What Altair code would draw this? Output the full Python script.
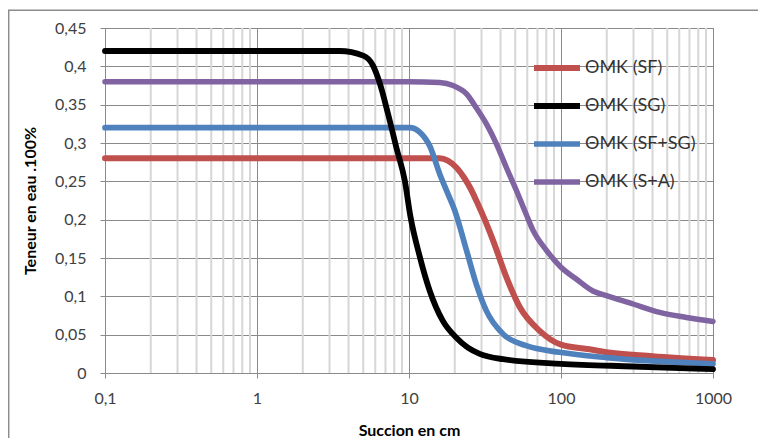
import altair as alt
import pandas as pd

series_names = ["ΘMK (SF)", "ΘMK (SG)", "ΘMK (SF+SG)", "ΘMK (S+A)"]
series_colors = ["#C0504D", "#000000", "#4F81BD", "#8064A2"]
series_widths = [6, 5.5, 5.5, 3]

sf_x = [0.1, 1, 10, 15.9, 18, 20.5, 23, 25.5, 28, 31.5, 35.7, 43.7, 53.5, 72.4, 100, 154, 199, 400, 1000]
sf_y = [0.28, 0.28, 0.28, 0.280, 0.277, 0.268, 0.255, 0.240, 0.223, 0.200, 0.173, 0.125, 0.086, 0.055, 0.037, 0.031, 0.027, 0.022, 0.017]

sg_x = [0.1, 1, 3.5, 5.0, 5.8, 6.4, 7.28, 8.26, 9.4, 10.2, 11.8, 13.7, 16.7, 20.5, 24.4, 29.2, 41.5, 100, 300, 1000]
sg_y = [0.42, 0.42, 0.42, 0.414, 0.401, 0.379, 0.338, 0.294, 0.250, 0.205, 0.151, 0.107, 0.068, 0.046, 0.033, 0.025, 0.018, 0.012, 0.0085, 0.005]

sfsg_x = [0.1, 1, 10.1, 11.8, 13.7, 15.9, 18.1, 20, 23.9, 27.7, 32.3, 41.5, 59, 98, 199, 1000]
sfsg_y = [0.32, 0.32, 0.32, 0.314, 0.296, 0.260, 0.233, 0.212, 0.160, 0.116, 0.081, 0.051, 0.0356, 0.027, 0.020, 0.012]

sa_x = [0.1, 1, 10, 15.9, 19.5, 23.9, 27.7, 32.3, 37.6, 43.7, 50.9, 59, 65.5, 80.2, 100, 126, 162, 199, 298, 446, 668, 1000]
sa_y = [0.38, 0.38, 0.38, 0.379, 0.375, 0.364, 0.346, 0.325, 0.299, 0.268, 0.238, 0.207, 0.186, 0.160, 0.138, 0.1226, 0.107, 0.1008, 0.090, 0.079, 0.0725, 0.0673]

x_ticks = [0.1, 1, 10, 100, 1000]
minor_ticks = [0.2, 0.3, 0.4, 0.5, 0.6, 0.7, 0.8, 0.9,
               2, 3, 4, 5, 6, 7, 8, 9,
               20, 30, 40, 50, 60, 70, 80, 90,
               200, 300, 400, 500, 600, 700, 800, 900]
y_ticks = [0, 0.05, 0.1, 0.15, 0.2, 0.25, 0.3, 0.35, 0.4, 0.45]

rows = []
for name, xs, ys in [(series_names[0], sf_x, sf_y),
                     (series_names[3], sa_x, sa_y),
                     (series_names[2], sfsg_x, sfsg_y),
                     (series_names[1], sg_x, sg_y)]:
    for xv, yv in zip(xs, ys):
        rows.append({"serie": name, "succion": xv, "teneur": yv})
df = pd.DataFrame(rows)

W, H = 608, 345
FONT = "Lato"
GRID = "#8a8a8a"

x_scale = alt.Scale(type="log", domain=[0.1, 1000], nice=False)
y_scale = alt.Scale(domain=[0, 0.45], nice=False, zero=True)

x_axis = alt.Axis(values=x_ticks, labelExpr="replace(format(datum.value, '~g'), '.', ',')",
                  grid=True, gridColor=GRID, domainColor=GRID, tickColor=GRID,
                  tickSize=5, labelFont=FONT, labelFontSize=16, labelColor="#404040",
                  labelPadding=12, title="Succion en cm", titleFont=FONT,
                  titleFontSize=16, titleFontWeight="bold", titleColor="#000000",
                  titlePadding=16, labelFlush=False)
y_axis = alt.Axis(values=y_ticks, labelExpr="replace(format(datum.value, '~g'), '.', ',')",
                  grid=True, gridColor=GRID, domainColor=GRID, tickColor=GRID,
                  tickSize=5, labelFont=FONT, labelFontSize=16, labelColor="#404040",
                  labelPadding=14, title="Teneur en eau .100%", titleFont=FONT,
                  titleFontSize=16, titleFontWeight="bold", titleColor="#000000",
                  titlePadding=16)

frame = alt.Chart(pd.DataFrame({"a": [0]})).mark_rect(
    filled=False, stroke="#8c8c8c", strokeWidth=1.5
).encode(
    x=alt.value(-96.3), x2=alt.value(2000), y=alt.value(-17.7), y2=alt.value(2000)
)

minor = alt.Chart(pd.DataFrame({"succion": minor_ticks})).mark_rule(
    color="#d6d6d6", strokeWidth=2
).encode(
    x=alt.X("succion:Q", scale=x_scale, axis=x_axis),
    y=alt.value(0), y2=alt.value(H)
)

leg = dict(orient="none", legendX=426, legendY=14, title=None, symbolType="stroke",
           symbolSize=2116, rowPadding=-10, labelFont=FONT, labelFontSize=18,
           labelColor="#333333", labelOffset=2, padding=0)

lines = alt.Chart(df).mark_line(interpolate="monotone", strokeCap="round", strokeJoin="round").encode(
    x=alt.X("succion:Q", scale=x_scale, axis=x_axis),
    y=alt.Y("teneur:Q", scale=y_scale, axis=y_axis),
    color=alt.Color("serie:N", scale=alt.Scale(domain=series_names, range=series_colors),
                    legend=alt.Legend(**leg)),
    strokeWidth=alt.StrokeWidth("serie:N", scale=alt.Scale(domain=series_names, range=series_widths),
                                legend=alt.Legend(**leg)),
)

chart = alt.layer(frame, minor, lines).properties(
    width=W, height=H,
    autosize=alt.AutoSizeParams(type="none"),
    padding={"left": 97, "top": 20, "right": 45, "bottom": 65},
    background="white",
).configure_view(stroke=GRID)

chart.save("out.html", embed_options={"renderer": "svg", "actions": False})
